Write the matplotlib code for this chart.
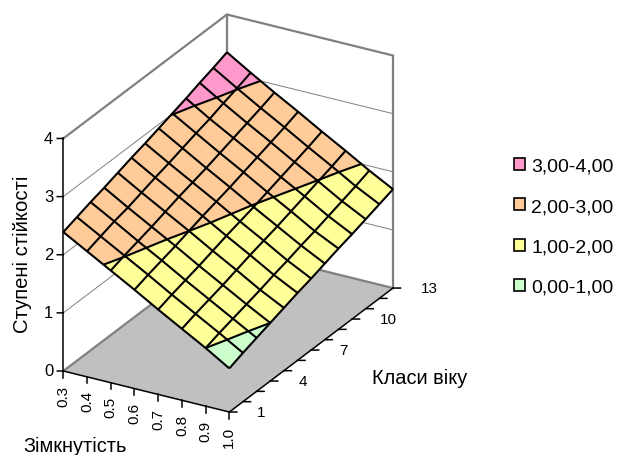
import matplotlib
matplotlib.use('Agg')
import matplotlib.pyplot as plt
from matplotlib.patches import Patch
from mpl_toolkits.mplot3d import proj3d
from mpl_toolkits.mplot3d.art3d import Poly3DCollection, Line3DCollection

plt.rcParams['font.family'] = ['Liberation Sans', 'DejaVu Sans']

# categories
closure = [0.3, 0.4, 0.5, 0.6, 0.7, 0.8, 0.9, 1.0]
closure_labels = ['0.3', '0.4', '0.5', '0.6', '0.7', '0.8', '0.9', '1.0']
age = [1, 2, 3, 4, 5, 6, 7, 8, 9, 10, 11, 12, 13]
age_labels = [1, 4, 7, 10, 13]
z_ticks = [0, 1, 2, 3, 4]

# stability, one row per closure value
row_03 = [2.39, 2.47, 2.55, 2.62, 2.70, 2.78, 2.85, 2.93, 3.01, 3.09, 3.18, 3.26, 3.35]
row_04 = [2.16, 2.24, 2.32, 2.38, 2.46, 2.54, 2.61, 2.69, 2.77, 2.84, 2.93, 3.01, 3.10]
row_05 = [1.93, 2.01, 2.08, 2.15, 2.23, 2.31, 2.38, 2.45, 2.53, 2.61, 2.69, 2.77, 2.86]
row_06 = [1.70, 1.78, 1.85, 1.92, 2.00, 2.08, 2.15, 2.22, 2.30, 2.38, 2.46, 2.54, 2.63]
row_07 = [1.46, 1.54, 1.61, 1.68, 1.76, 1.84, 1.91, 1.98, 2.06, 2.14, 2.22, 2.30, 2.39]
row_08 = [1.23, 1.31, 1.38, 1.45, 1.53, 1.61, 1.68, 1.75, 1.83, 1.91, 1.99, 2.07, 2.16]
row_09 = [1.00, 1.08, 1.15, 1.22, 1.29, 1.37, 1.44, 1.52, 1.59, 1.67, 1.75, 1.83, 1.92]
row_10 = [0.75, 0.84, 0.92, 1.00, 1.08, 1.16, 1.23, 1.31, 1.39, 1.46, 1.54, 1.62, 1.70]
rows = [row_03, row_04, row_05, row_06, row_07, row_08, row_09, row_10]

band_labels = ['3,00-4,00', '2,00-3,00', '1,00-2,00', '0,00-1,00']
band_limits = [(3, 4), (2, 3), (1, 2), (0, 1)]
band_colors = ['#FF99CC', '#FFCC99', '#FFFF99', '#CCFFCC']

W, H = 617, 456
x0, x1 = closure[0], closure[-1]
y0, y1 = age[0], age[-1]
z1 = z_ticks[-1]


def clip_band(points, lo, hi):
    # cut a cell polygon down to one z band
    for limit, keep_above in ((lo, True), (hi, False)):
        out = []
        for k in range(len(points)):
            a = points[k]
            b = points[(k + 1) % len(points)]
            a_in = a[2] >= limit if keep_above else a[2] <= limit
            b_in = b[2] >= limit if keep_above else b[2] <= limit
            if a_in:
                out.append(a)
            if a_in != b_in:
                t = (limit - a[2]) / (b[2] - a[2])
                out.append((a[0] + t * (b[0] - a[0]), a[1] + t * (b[1] - a[1]), limit))
        points = out
        if not points:
            break
    return points


def level_segment(points, level):
    hits = []
    for k in range(len(points)):
        a = points[k]
        b = points[(k + 1) % len(points)]
        if (a[2] - level) * (b[2] - level) < 0 or (a[2] == level and b[2] != level):
            t = (level - a[2]) / (b[2] - a[2])
            hits.append((a[0] + t * (b[0] - a[0]), a[1] + t * (b[1] - a[1]), level))
    return hits[:2] if len(hits) >= 2 else None


def shift(x, y, z, dx, dy):
    # move a 3D point by screen pixels (dy down), for the tick marks
    frac = dx / 166.0
    return x + frac * (x1 - x0), y, z + (41.0 * frac - dy) / (232.5 / z1)


fig = plt.figure(figsize=(W / 100, H / 100), dpi=100)
ax = fig.add_subplot(projection='3d', computed_zorder=False)
ax.set_proj_type('ortho')
ax.view_init(elev=25.63, azim=-60.27)
ax.set_box_aspect((191.2, 330.0, 257.9))
ax.set_xlim(x0, x1, view_margin=0)
ax.set_ylim(y0, y1, view_margin=0)
ax.set_zlim(0, z1, view_margin=0)
ax.set_axis_off()

# floor
ax.add_collection3d(Poly3DCollection([[(x0, y0, 0), (x1, y0, 0), (x1, y1, 0), (x0, y1, 0)]],
                                     facecolors='#C0C0C0', edgecolors='none', zorder=1),
                    autolim=False)

# walls
gray = '#808080'
for z in z_ticks[1:-1]:
    ax.plot([x0, x0, x1], [y0, y1, y1], [z, z, z], color=gray, lw=0.7, zorder=2)
ax.plot([x0, x0, x1], [y0, y1, y1], [z1, z1, z1], color=gray, lw=1.6, zorder=2)
ax.plot([x0, x0, x1], [y0, y1, y1], [0, 0, 0], color=gray, lw=1.6, zorder=2)
ax.plot([x0, x0], [y1, y1], [0, z1], color=gray, lw=1.6, zorder=2)
ax.plot([x1, x1], [y1, y1], [0, z1], color=gray, lw=1.6, zorder=2)

# surface
for lim, col in zip(band_limits, band_colors):
    polys = []
    for i in range(len(closure) - 1):
        for j in range(len(age) - 1):
            cell = [(closure[i], age[j], rows[i][j]),
                    (closure[i + 1], age[j], rows[i + 1][j]),
                    (closure[i + 1], age[j + 1], rows[i + 1][j + 1]),
                    (closure[i], age[j + 1], rows[i][j + 1])]
            part = clip_band(cell, lim[0], lim[1])
            if len(part) >= 3:
                polys.append(part)
    ax.add_collection3d(Poly3DCollection(polys, facecolors=col, edgecolors=col,
                                         linewidths=0.3, zorder=3), autolim=False)

segs = []
for i in range(len(closure)):
    segs.append([(closure[i], age[j], rows[i][j]) for j in range(len(age))])
for j in range(len(age)):
    segs.append([(closure[i], age[j], rows[i][j]) for i in range(len(closure))])
for i in range(len(closure) - 1):
    for j in range(len(age) - 1):
        cell = [(closure[i], age[j], rows[i][j]),
                (closure[i + 1], age[j], rows[i + 1][j]),
                (closure[i + 1], age[j + 1], rows[i + 1][j + 1]),
                (closure[i], age[j + 1], rows[i][j + 1])]
        for level in (1, 2, 3):
            seg = level_segment(cell, level)
            if seg:
                segs.append(seg)
ax.add_collection3d(Line3DCollection(segs, colors='black', linewidths=1.5, zorder=4),
                    autolim=False)

# axes lines
ax.plot([x0, x0], [y0, y0], [0, z1], color='black', lw=1.1, zorder=5)
ax.plot([x0, x1], [y0, y0], [0, 0], color='black', lw=1.1, zorder=5)
ax.plot([x1, x1], [y0, y1], [0, 0], color='black', lw=1.1, zorder=5)

# tick marks
for z in z_ticks:
    p = shift(x0, y0, z, -6, 0)
    ax.plot([x0, p[0]], [y0, p[1]], [z, p[2]], color='black', lw=1.1, zorder=5)
for x in closure:
    p = shift(x, y0, 0, 0, 6.5)
    ax.plot([x, p[0]], [y0, p[1]], [0, p[2]], color='black', lw=1.1, zorder=5)
for y in age:
    p = shift(x1, y, 0, 7.5, 0)
    ax.plot([x1, p[0]], [y, p[1]], [0, p[2]], color='black', lw=1.1, zorder=5)

# axis titles
fig.text(22 / W, 1 - 254 / H, 'Ступені стійкості', fontsize=14.6, rotation=90, ha='center', va='center')
fig.text(372.5 / W, 1 - 378 / H, 'Класи віку', fontsize=14.4, ha='left', va='center')
fig.text(23 / W, 1 - 446 / H, 'Зімкнутість', fontsize=14.4, ha='left', va='center')

# legend
handles = [Patch(facecolor=c, edgecolor='black', linewidth=1.2) for c in band_colors]
fig.legend(handles, band_labels, loc='upper left', bbox_to_anchor=(514 / W, 1 - 159 / H),
           frameon=False, fontsize=14, borderpad=0, borderaxespad=0, labelspacing=1.2,
           handlelength=0.57, handleheight=0.57, handletextpad=0.33)


def to_px(x, y, z):
    xs, ys, _ = proj3d.proj_transform(x, y, z, ax.get_proj())
    return ax.transData.transform((xs, ys))


# fit the plot box onto the picture
left_target = (63.3, H - 372.0)
right_target = (393.0, H - 289.0)
size = 456.0
cx, cy = W / 2, H / 2
for _ in range(3):
    ax.set_position([(cx - size / 2) / W, (cy - size / 2) / H, size / W, size / H])
    fig.canvas.draw()
    a = to_px(x0, y0, 0)
    b = to_px(x1, y1, 0)
    k = (right_target[0] - left_target[0]) / (b[0] - a[0])
    size = size * k
    cx = cx + left_target[0] - (cx + k * (a[0] - cx))
    cy = cy + left_target[1] - (cy + k * (a[1] - cy))
ax.set_position([(cx - size / 2) / W, (cy - size / 2) / H, size / W, size / H])
fig.canvas.draw()

# tick labels, placed from the projected tick positions
for z in z_ticks:
    p = to_px(x0, y0, z)
    fig.text((p[0] - 10) / W, p[1] / H, str(z), fontsize=12, ha='right', va='center')
for x, lab in zip(closure, closure_labels):
    p = to_px(x, y0, 0)
    fig.text(p[0] / W, (p[1] - 13.5) / H, lab, fontsize=11, rotation=90, ha='center', va='top')
for y in age_labels:
    p = to_px(x1, y, 0)
    fig.text((p[0] + 28) / W, p[1] / H, str(y), fontsize=11, ha='left', va='center')

fig.savefig('out.png', dpi=100, facecolor='white')
